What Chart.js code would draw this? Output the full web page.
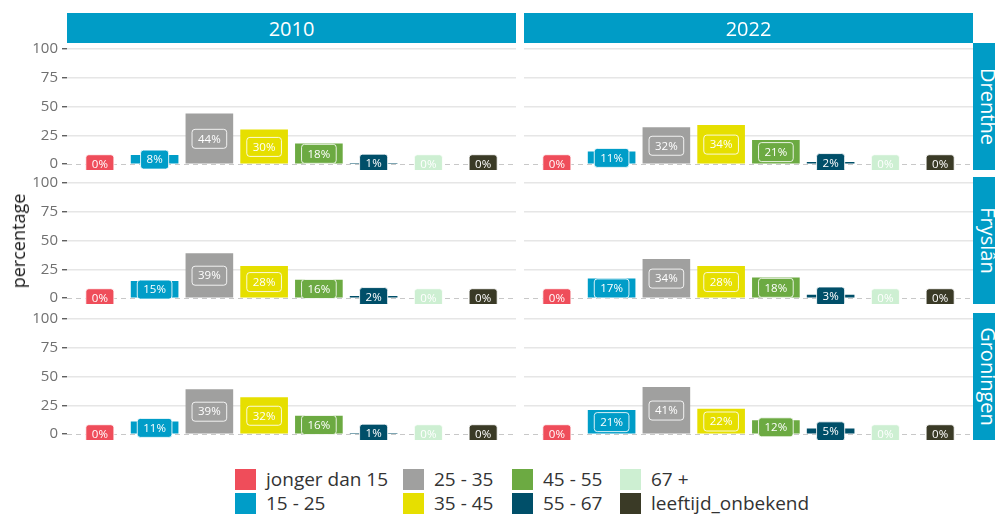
<!DOCTYPE html>
<html>
<head>
<meta charset="utf-8">
<script src="https://cdn.jsdelivr.net/npm/chart.js@4/dist/chart.umd.min.js"></script>
<style>
html,body{margin:0;padding:0;background:#fff;}
#wrap{position:relative;width:995px;height:515px;overflow:hidden;font-family:"Open Sans","DejaVu Sans",sans-serif;}
canvas{position:absolute;}
.strip{position:absolute;background:#009CC6;color:#fff;font-size:20px;display:flex;align-items:center;justify-content:center;overflow:hidden;}
.strip span.v{display:inline-block;transform:rotate(90deg);white-space:nowrap;}
#ytitle{position:absolute;left:18px;top:241px;transform:translate(-50%,-50%) rotate(-90deg);font-size:18px;color:#1a1a1a;white-space:nowrap;}
.sw{position:absolute;width:21px;height:21px;}
.lt{position:absolute;font-size:19px;color:#333;white-space:nowrap;line-height:21px;}
</style>
</head>
<body>
<div id="wrap"></div>
<script>
// ---- data ----
const categories = ["jonger dan 15","15 - 25","25 - 35","35 - 45","45 - 55","55 - 67","67 +","leeftijd_onbekend"];
const years = ["2010","2022"];
const provinces = ["Drenthe","Fryslân","Groningen"];
const drenthe2010   = [0, 8, 44, 30, 18, 1, 0, 0];
const drenthe2022   = [0, 11, 32, 34, 21, 2, 0, 0];
const fryslan2010   = [0, 15, 39, 28, 16, 2, 0, 0];
const fryslan2022   = [0, 17, 34, 28, 18, 3, 0, 0];
const groningen2010 = [0, 11, 39, 32, 16, 1, 0, 0];
const groningen2022 = [0, 21, 41, 22, 12, 5, 0, 0];
const yTicks = [0, 25, 50, 75, 100];

// ---- styles ----
const colors = ["#EF4D5A","#009DC8","#A0A09F","#E6DF00","#6CAA42","#004F69","#CDEFD2","#3A3A26"];
const FONT = '"Open Sans","DejaVu Sans",sans-serif';

const panelValues = [
  [drenthe2010, drenthe2022],
  [fryslan2010, fryslan2022],
  [groningen2010, groningen2022]
];

// ---- layout ----
const colLeft = [67, 524], panelW = 449;
const rowTop = [43, 177, 313], panelH = 127;
const PAD = 12;
const wrap = document.getElementById('wrap');

function el(tag, cls, css, html){
  const e = document.createElement(tag);
  if (cls) e.className = cls;
  Object.assign(e.style, css || {});
  if (html !== undefined) e.innerHTML = html;
  wrap.appendChild(e);
  return e;
}

const zeroLine = {
  id: 'zeroLine',
  beforeDatasetsDraw(chart){
    const {ctx, chartArea:a, scales:{y}} = chart;
    const py = Math.round(y.getPixelForValue(0)) + 0.5;
    ctx.save();
    ctx.strokeStyle = '#C8C8C8';
    ctx.lineWidth = 1.2;
    ctx.setLineDash([5,4]);
    ctx.beginPath(); ctx.moveTo(a.left, py); ctx.lineTo(a.right, py); ctx.stroke();
    ctx.restore();
  }
};

function rr(ctx, x, y, w, h, r){
  ctx.beginPath();
  ctx.moveTo(x+r, y);
  ctx.lineTo(x+w-r, y); ctx.arcTo(x+w, y, x+w, y+r, r);
  ctx.lineTo(x+w, y+h-r); ctx.arcTo(x+w, y+h, x+w-r, y+h, r);
  ctx.lineTo(x+r, y+h); ctx.arcTo(x, y+h, x, y+h-r, r);
  ctx.lineTo(x, y+r); ctx.arcTo(x, y, x+r, y, r);
  ctx.closePath();
}

const boxLabels = {
  id: 'boxLabels',
  afterDatasetsDraw(chart){
    const {ctx, chartArea:a, scales:{x,y}} = chart;
    const ds = chart.data.datasets[0];
    ctx.save();
    ctx.beginPath(); ctx.rect(a.left, a.top, a.right-a.left, a.bottom-a.top); ctx.clip();
    ctx.font = '11.5px ' + FONT;
    ctx.textAlign = 'center'; ctx.textBaseline = 'middle';
    ds.data.forEach((p, i) => {
      const txt = Math.round(p.y) + '%';
      const cx = x.getPixelForValue(p.x);
      const cy = y.getPixelForValue(p.y / 2);
      const w = ctx.measureText(txt).width + 12, h = 19;
      rr(ctx, cx - w/2, cy - h/2, w, h, 3);
      ctx.fillStyle = colors[i]; ctx.fill();
      ctx.strokeStyle = 'rgba(255,255,255,0.85)'; ctx.lineWidth = 1; ctx.stroke();
      ctx.fillStyle = '#FFFFFF';
      ctx.fillText(txt, cx, cy + 0.5);
    });
    ctx.restore();
  }
};

function makeChart(r, c){
  const showAxis = c === 0;
  const left = showAxis ? 0 : colLeft[c];
  const width = showAxis ? colLeft[0] + panelW : panelW;
  const cv = document.createElement('canvas');
  cv.width = width; cv.height = panelH + 2*PAD;
  cv.style.left = left + 'px'; cv.style.top = (rowTop[r] - PAD) + 'px';
  wrap.appendChild(cv);
  const values = panelValues[r][c];
  new Chart(cv, {
    type: 'bar',
    data: {
      datasets: [{
        data: values.map((v, i) => ({x: i + 1, y: v})),
        backgroundColor: colors,
        borderWidth: 0,
        barPercentage: 0.87,
        categoryPercentage: 1
      }]
    },
    options: {
      responsive: false, animation: false, maintainAspectRatio: false,
      layout: {padding: {top: PAD, bottom: PAD, left: 0, right: 0}},
      plugins: {legend: {display: false}, tooltip: {enabled: false}},
      scales: {
        x: {
          type: 'linear', min: 0.4, max: 8.6, offset: false, display: false,
          afterBuildTicks: ax => { ax.ticks = categories.map((_, i) => ({value: i + 1})); }
        },
        y: {
          min: -5, max: 105,
          afterBuildTicks: ax => { ax.ticks = yTicks.map(v => ({value: v})); },
          grid: {
            color: ctx => (ctx.tick && ctx.tick.value === 0) ? 'rgba(0,0,0,0)' : '#E6E6E6',
            lineWidth: 1.5,
            drawTicks: showAxis, tickLength: 5, tickColor: '#444', tickWidth: 1.2
          },
          border: {display: false},
          ticks: {display: showAxis, padding: 4, color: '#707070', font: {family: FONT, size: 15}},
          afterFit: ax => { ax.width = showAxis ? colLeft[0] : 0; ax.paddingTop = 0; ax.paddingBottom = 0; }
        }
      }
    },
    plugins: [zeroLine, boxLabels]
  });
}

for (let r = 0; r < 3; r++) for (let c = 0; c < 2; c++) makeChart(r, c);

// strips
years.forEach((yr, c) => {
  el('div', 'strip', {left: colLeft[c] + 'px', top: '13px', width: panelW + 'px', height: '30px'}, yr);
});
provinces.forEach((p, r) => {
  el('div', 'strip', {left: '973px', top: rowTop[r] + 'px', width: '30px', height: panelH + 'px'}, '<span class="v">' + p + '</span>');
});

// axis title
const yt = el('div', null, {}, 'percentage'); yt.id = 'ytitle';

// legend
const legCols = [235, 403, 512, 620];
const legRows = [469, 493];
categories.forEach((cat, i) => {
  const col = Math.floor(i / 2), row = i % 2;
  el('div', 'sw', {left: legCols[col] + 'px', top: legRows[row] + 'px', background: colors[i]});
  el('div', 'lt', {left: (legCols[col] + 31) + 'px', top: legRows[row] + 'px'}, cat);
});
</script>
</body>
</html>
